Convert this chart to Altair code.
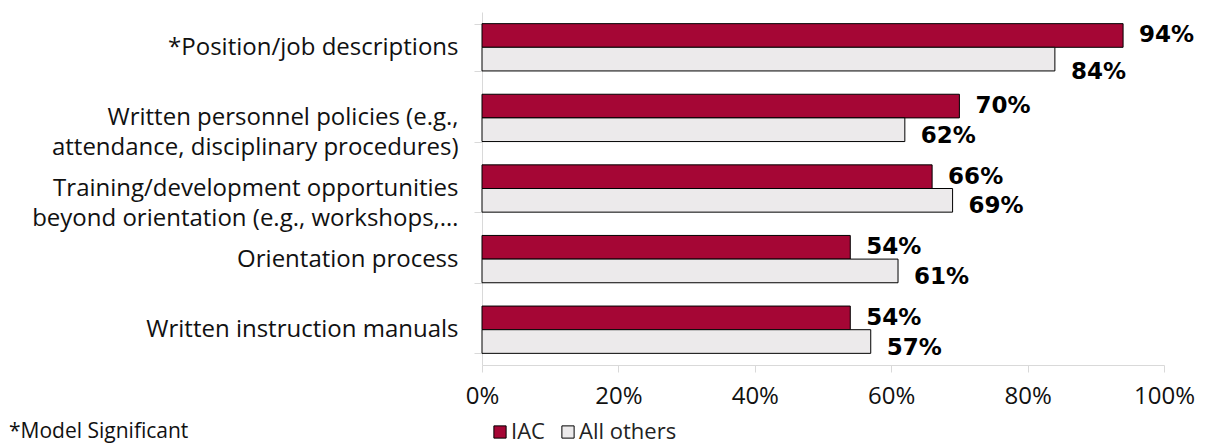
import altair as alt
import pandas as pd

categories = [
    "*Position/job descriptions",
    "Written personnel policies (e.g.,\nattendance, disciplinary procedures)",
    "Training/development opportunities\nbeyond orientation (e.g., workshops,…",
    "Orientation process",
    "Written instruction manuals",
]
groups = ["IAC", "All others"]
iac_values = [0.94, 0.70, 0.66, 0.54, 0.54]
other_values = [0.84, 0.62, 0.69, 0.61, 0.57]
x_ticks = [0, 0.2, 0.4, 0.6, 0.8, 1.0]
colors = ["#A50635", "#ECEAEB"]
footnote = "*Model Significant"

rows = []
for c, a, b in zip(categories, iac_values, other_values):
    rows.append({"category": c, "group": groups[0], "value": a})
    rows.append({"category": c, "group": groups[1], "value": b})
df = pd.DataFrame(rows)

AX = "#d9d9d9"

y_enc = alt.Y(
    "category:N", sort=categories, title=None,
    scale=alt.Scale(paddingInner=0.33, paddingOuter=0.165),
    axis=alt.Axis(
        labelExpr="isValid(datum.value) ? split(datum.value, '\\n') : ''",
        labelFont="Open Sans", labelFontSize=24, labelLineHeight=30,
        labelColor="#111", labelPadding=16, labelLimit=0,
        tickBand="extent", tickSize=8, tickColor=AX, domainColor=AX,
        labelAlign="right", labelBaseline="middle",
    ),
)
x_enc = alt.X(
    "value:Q", title=None, scale=alt.Scale(domain=[0, 1]),
    axis=alt.Axis(
        values=x_ticks, format=".0%", grid=False, tickSize=7,
        tickColor=AX, domainColor=AX, labelFont="Open Sans",
        labelFontSize=24, labelPadding=12, labelColor="#111",
        labelFlush=False,
    ),
)
yoff = alt.YOffset("group:N", sort=groups, scale=alt.Scale(paddingInner=0, paddingOuter=0))

base = alt.Chart(df)

bars = base.mark_bar(stroke="#000", strokeWidth=1).encode(
    x=x_enc, y=y_enc, yOffset=yoff,
    color=alt.Color(
        "group:N", sort=groups,
        scale=alt.Scale(domain=groups, range=colors),
        legend=alt.Legend(
            title=None, orient="none", direction="horizontal",
            legendX=7, legendY=409, symbolType="square", symbolSize=150,
            symbolStrokeColor="#000", symbolStrokeWidth=1,
            labelFont="Open Sans", labelFontSize=22, labelColor="#222",
            labelOffset=0, columnPadding=12,
        ),
    ),
)

txt_kw = dict(align="left", baseline="middle", font="DejaVu Sans",
              fontWeight="bold", fontSize=23, color="#000", dx=16)

lab_iac = base.transform_filter(alt.datum.group == groups[0]).mark_text(**txt_kw).encode(
    x="value:Q", y=alt.Y("category:N", sort=categories), yOffset=yoff,
    text=alt.Text("value:Q", format=".0%"))
lab_oth = base.transform_filter(
    (alt.datum.group == groups[1]) & (alt.datum.category != categories[0])
).mark_text(dy=6, **txt_kw).encode(
    x="value:Q", y=alt.Y("category:N", sort=categories), yOffset=yoff,
    text=alt.Text("value:Q", format=".0%"))
lab_oth0 = base.transform_filter(
    (alt.datum.group == groups[1]) & (alt.datum.category == categories[0])
).mark_text(dy=13, **txt_kw).encode(
    x="value:Q", y=alt.Y("category:N", sort=categories), yOffset=yoff,
    text=alt.Text("value:Q", format=".0%"))

note = alt.Chart(pd.DataFrame({"t": [footnote]})).mark_text(
    align="left", baseline="middle", font="Open Sans", fontSize=21, color="#111"
).encode(text="t:N", x=alt.value(-473), y=alt.value(420))

chart = alt.layer(bars, lab_iac, lab_oth, lab_oth0, note).properties(
    width=682, height=353,
    autosize=alt.AutoSizeParams(type="none"),
    padding={"left": 474, "top": 4, "right": 34, "bottom": 79},
).configure_view(stroke=None)

chart.save("out.html", embed_options={"renderer": "svg", "actions": False})
